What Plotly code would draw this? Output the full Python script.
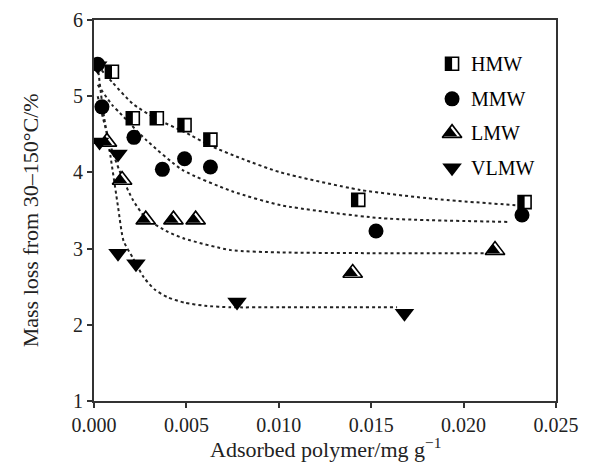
import plotly.graph_objects as go

# ---------------- data ----------------
hmw_x = [0.00097, 0.0021, 0.0034, 0.0049, 0.0063, 0.0143, 0.0233]
hmw_y = [5.32, 4.71, 4.71, 4.62, 4.43, 3.64, 3.61]

mmw_x = [0.0002, 0.00043, 0.00216, 0.0037, 0.0049, 0.0063, 0.01526, 0.02316]
mmw_y = [5.42, 4.86, 4.46, 4.04, 4.18, 4.07, 3.23, 3.44]

lmw_x = [0.0007, 0.00152, 0.0028, 0.0043, 0.0055, 0.0140, 0.0217]
lmw_y = [4.40, 3.90, 3.38, 3.38, 3.38, 2.68, 2.98]

vlmw_x = [0.0002, 0.0003, 0.0013, 0.0013, 0.00227, 0.00774, 0.0168]
vlmw_y = [5.40, 4.40, 4.24, 2.94, 2.80, 2.30, 2.15]

# fitted trend curves
hmw_fit_x = [0.0002, 0.001, 0.0021, 0.0034, 0.0049, 0.0063, 0.008, 0.0101, 0.0144, 0.0185, 0.0228]
hmw_fit_y = [5.40, 5.18, 4.90, 4.70, 4.53, 4.35, 4.18, 4.00, 3.77, 3.65, 3.57]

mmw_fit_x = [0.0002, 0.001, 0.0014, 0.0028, 0.0048, 0.0075, 0.0101, 0.0155, 0.0225]
mmw_fit_y = [5.15, 4.88, 4.78, 4.43, 4.03, 3.75, 3.57, 3.40, 3.35]

lmw_fit_x = [0.0002, 0.0005, 0.001, 0.0015, 0.0021, 0.0028, 0.004, 0.0049, 0.0074, 0.0101, 0.015, 0.0213]
lmw_fit_y = [5.00, 4.70, 4.27, 3.95, 3.64, 3.40, 3.22, 3.13, 2.98, 2.95, 2.94, 2.94]

vlmw_fit_x = [0.0002, 0.0005, 0.0009, 0.0013, 0.0016, 0.0021, 0.0027, 0.0033, 0.004, 0.0049, 0.006, 0.0074, 0.01, 0.0164]
vlmw_fit_y = [5.40, 4.80, 4.20, 3.55, 3.10, 2.88, 2.62, 2.46, 2.36, 2.29, 2.25, 2.23, 2.23, 2.23]

series_names = ["HMW", "MMW", "LMW", "VLMW"]
x_ticks = [0.0, 0.005, 0.010, 0.015, 0.020, 0.025]
y_ticks = [1, 2, 3, 4, 5, 6]

FONT = "Liberation Serif, Times New Roman, serif"
BLACK = "#000000"
TXT = "#222222"

fig = go.Figure()

# dotted fit lines
for fx, fy in [(hmw_fit_x, hmw_fit_y), (mmw_fit_x, mmw_fit_y),
               (lmw_fit_x, lmw_fit_y), (vlmw_fit_x, vlmw_fit_y)]:
    fig.add_trace(go.Scatter(x=fx, y=fy, mode="lines",
                             line=dict(color="#222222", width=2, dash="dot", shape="spline", smoothing=0.6),
                             showlegend=False, hoverinfo="skip"))


def half_square(x, y, xa="x", ya="y"):
    fig.add_trace(go.Scatter(x=x, y=y, mode="markers", xaxis=xa, yaxis=ya, showlegend=False,
                             marker=dict(symbol="square", size=13, color="white",
                                         line=dict(color=BLACK, width=1.6))))
    fig.add_trace(go.Scatter(x=x, y=y, mode="markers", xaxis=xa, yaxis=ya, showlegend=False,
                             marker=dict(symbol="line-ew", size=9, angle=90, standoff=3.2,
                                         line=dict(color=BLACK, width=6.5))))


def circle(x, y, xa="x", ya="y"):
    fig.add_trace(go.Scatter(x=x, y=y, mode="markers", xaxis=xa, yaxis=ya, showlegend=False,
                             marker=dict(symbol="circle", size=15, color=BLACK,
                                         line=dict(width=0))))


def half_tri(x, y, xa="x", ya="y"):
    fig.add_trace(go.Scatter(x=x, y=y, mode="markers", xaxis=xa, yaxis=ya, showlegend=False,
                             marker=dict(symbol="triangle-up", size=17, color="white",
                                         line=dict(color=BLACK, width=1.6))))
    fig.add_trace(go.Scatter(x=x, y=y, mode="markers", xaxis=xa, yaxis=ya, showlegend=False,
                             marker=dict(symbol="triangle-left", size=12.5, angle=90, standoff=2.0,
                                         color=BLACK, line=dict(width=0))))


def down_tri(x, y, xa="x", ya="y"):
    fig.add_trace(go.Scatter(x=x, y=y, mode="markers", xaxis=xa, yaxis=ya, showlegend=False,
                             marker=dict(symbol="triangle-down", size=17, color=BLACK,
                                         line=dict(width=0))))


half_square(hmw_x, hmw_y)
circle(mmw_x, mmw_y)
half_tri(lmw_x, lmw_y)
down_tri(vlmw_x, vlmw_y)

# legend (drawn on an overlaid helper axis in plot-fraction units)
leg_mx = 0.775
leg_tx = 0.812
leg_rows = [0.885, 0.793, 0.703, 0.612]
half_square([leg_mx], [leg_rows[0]], "x2", "y2")
circle([leg_mx], [leg_rows[1]], "x2", "y2")
half_tri([leg_mx], [leg_rows[2]], "x2", "y2")
down_tri([leg_mx], [leg_rows[3]], "x2", "y2")
for name, ry in zip(series_names, leg_rows):
    fig.add_annotation(x=leg_tx, y=ry, xref="x2", yref="y2", text=name, showarrow=False,
                       xanchor="left", yanchor="middle", font=dict(family=FONT, size=20, color=BLACK))

# axis titles as annotations (keeps plot area fixed)
fig.add_annotation(x=0.5, y=-0.123, xref="paper", yref="paper",
                   text="Adsorbed polymer/mg g<sup>−1</sup>", showarrow=False,
                   xanchor="center", yanchor="middle", font=dict(family=FONT, size=22, color=TXT))
fig.add_annotation(x=-0.138, y=0.475, xref="paper", yref="paper",
                   text="Mass loss from 30–150°C/%", showarrow=False, textangle=-90,
                   xanchor="center", yanchor="middle", font=dict(family=FONT, size=22, color=TXT))

axis_common = dict(showline=True, linecolor="#333333", linewidth=2, mirror=True,
                   ticks="outside", ticklen=5, tickwidth=1.5, tickcolor="#333333",
                   showgrid=False, zeroline=False, automargin=False,
                   tickfont=dict(family=FONT, size=20, color=TXT))

fig.update_layout(
    width=593, height=466,
    margin=dict(l=94, r=37, t=20, b=65),
    paper_bgcolor="white", plot_bgcolor="white",
    showlegend=False,
    xaxis=dict(range=[0, 0.025], tickvals=x_ticks, tickformat=".3f", **axis_common),
    yaxis=dict(range=[1, 6], tickvals=y_ticks, **axis_common),
    xaxis2=dict(range=[0, 1], overlaying="x", visible=False, fixedrange=True),
    yaxis2=dict(range=[0, 1], overlaying="y", visible=False, fixedrange=True),
)

fig.write_html("out.html", config={"displayModeBar": False},
               post_script="document.body.style.margin='0';document.body.style.overflow='hidden';")
